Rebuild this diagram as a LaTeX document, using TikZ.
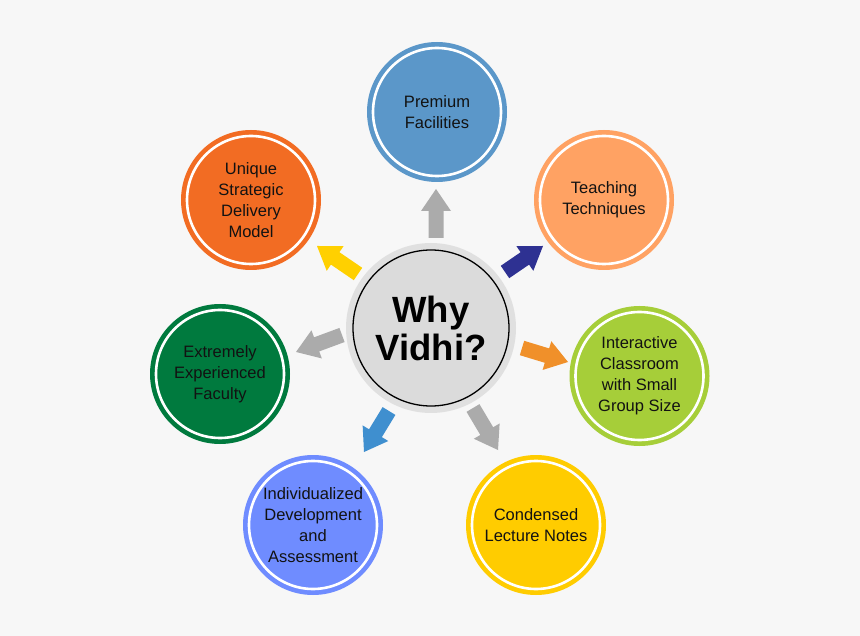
\documentclass[tikz,border=0pt]{standalone}
\usepackage{fontspec}
\setmainfont{Liberation Sans}
\usetikzlibrary{calc}
\definecolor{bgc}{HTML}{F7F7F7}
\definecolor{ringc}{HTML}{E0E0E0}
\definecolor{innerc}{HTML}{DBDBDB}
\definecolor{premc}{HTML}{5B97C9}
\definecolor{teachc}{HTML}{FFA263}
\definecolor{interc}{HTML}{A6CE39}
\definecolor{condc}{HTML}{FFCC00}
\definecolor{indivc}{HTML}{6F8CFF}
\definecolor{extrc}{HTML}{007A3E}
\definecolor{uniqc}{HTML}{F26C23}
\definecolor{agray}{HTML}{ABABAB}
\definecolor{anavy}{HTML}{2E3192}
\definecolor{aorange}{HTML}{F0902A}
\definecolor{ablue}{HTML}{3F8FCF}
\definecolor{ayellow}{HTML}{FFD000}
\newcommand\barrow[4]{%
  \coordinate (#2s) at (#3);
  \coordinate (#2e) at (#4);
  \coordinate (#2h) at ($(#2e)!22pt!(#2s)$);
  \fill[#1] ($(#2s)!7.5pt!90:(#2e)$) -- ($(#2h)!7.5pt!90:(#2e)$) -- ($(#2h)!15pt!90:(#2e)$) -- (#2e)
    -- ($(#2h)!15pt!-90:(#2e)$) -- ($(#2h)!7.5pt!-90:(#2e)$) -- ($(#2s)!7.5pt!-90:(#2e)$) -- cycle;}
\begin{document}
\begin{tikzpicture}[x=1pt,y=-1pt,
  sat/.style={circle, inner sep=0pt, minimum size=140pt, align=center,
    font=\fontsize{16.5pt}{21pt}\selectfont, text=black!93,
    path picture={\draw[white, line width=2.6pt] (path picture bounding box.center) circle (64pt);}}]
\fill[bgc] (0,0) rectangle (860,636);
\useasboundingbox (0,0) rectangle (860,636);
% centre
\node[circle, fill=ringc, inner sep=0pt, minimum size=170pt] (ring) at (431,328) {};
\node[circle, fill=innerc, draw=black, line width=1.3pt, inner sep=0pt, minimum size=156pt,
  align=center, font=\fontsize{36.5pt}{38pt}\selectfont\bfseries] (c) at (431,328) {Why\\Vidhi?};
% satellites
\node[sat, fill=premc] (prem) at (437,112) {Premium\\Facilities};
\node[sat, fill=teachc] (teach) at (604,200) {Teaching\\Techniques};
\node[sat, fill=interc] (inter) at (639.5,376) {Interactive\\Classroom\\with Small\\Group Size};
\node[sat, fill=condc] (cond) at (536,525) {Condensed\\Lecture Notes};
\node[sat, fill=indivc] (indiv) at (313,525) {Individualized\\Development\\and\\Assessment};
\node[sat, fill=extrc] (extr) at (220,374) {Extremely\\Experienced\\Faculty};
\node[sat, fill=uniqc] (uniq) at (251,200) {Unique\\Strategic\\Delivery\\Model};
% arrows
\barrow{agray}{a1}{436,238}{436,189}
\barrow{anavy}{a2}{505,272}{543,246}
\barrow{aorange}{a3}{522,348}{568,362}
\barrow{agray}{a4}{473,408}{498,450}
\barrow{ablue}{a5}{389,411}{364,452}
\barrow{agray}{a6}{342,335}{296,352}
\barrow{ayellow}{a7}{358,274}{317,246}
\end{tikzpicture}
\end{document}
